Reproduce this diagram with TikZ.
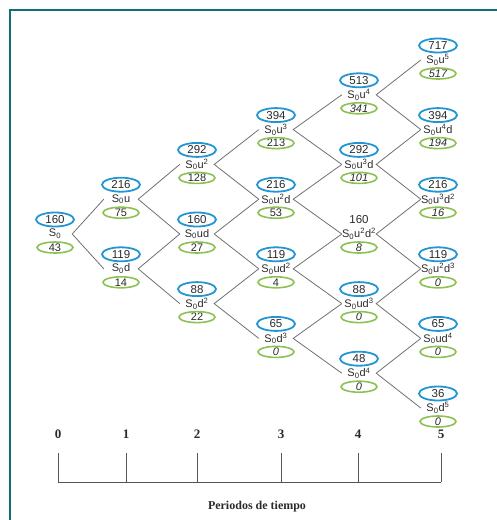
\documentclass[tikz,border=0pt]{standalone}
\usepackage{fontspec}
\setmainfont{Liberation Sans}
\newfontfamily\serifb{Liberation Serif}
\definecolor{framec}{HTML}{0E6F78}
\definecolor{blueel}{HTML}{2196D3}
\definecolor{greenel}{HTML}{8CC152}
\definecolor{treeline}{HTML}{707070}
\definecolor{txt}{HTML}{2A2A2A}
\definecolor{axisc}{HTML}{555555}
\tikzset{
  num/.style={font=\fontsize{11.5}{13}\selectfont, text=txt, inner sep=0pt},
  lab/.style={font=\fontsize{11}{13}\selectfont, text=txt, inner sep=0pt, minimum width=34pt, minimum height=10pt},
  gnum/.style={font=\fontsize{11}{13}\selectfont, text=txt, inner sep=0pt},
  bell/.style={draw=blueel, line width=1.8pt},
  gell/.style={draw=greenel, line width=1.6pt},
  branch/.style={draw=treeline, line width=0.8pt},
  axisline/.style={draw=axisc, line width=1pt},
  axislab/.style={font=\serifb\bfseries\fontsize{13}{15}\selectfont, text=txt, inner sep=0pt},
}
\newcommand\tnode[6]{%
  \node[num] (#1n) at (#2,#3) {#4};
  \draw[bell] (#1n.center) ellipse (19 and 7);
  \node[lab] (#1) at (#2,#3+14.5) {#5};
  \node[gnum] (#1g) at (#2,#3+28) {#6};
  \draw[gell] (#1g.center) ellipse (18 and 5.5);
}
\newcommand\tnodeplain[6]{%
  \node[num] (#1n) at (#2,#3) {#4};
  \node[lab] (#1) at (#2,#3+14.5) {#5};
  \node[gnum] (#1g) at (#2,#3+28) {#6};
  \draw[gell] (#1g.center) ellipse (18 and 5.5);
}
\newcommand\Sz{S\textsubscript{0}}
\begin{document}
\begin{tikzpicture}[x=1pt,y=-1pt]
\useasboundingbox (0,0) rectangle (497,520);
\draw[framec, line width=2pt] (9.5,520) -- (9.5,9.5) -- (497,9.5);
% column 0
\tnode{a0}{55}{219.5}{160}{\Sz}{43}
% column 1
\tnode{b0}{121}{184.7}{216}{\Sz u}{75}
\tnode{b1}{121}{254.3}{119}{\Sz d}{14}
% column 2
\tnode{c0}{197}{149.9}{292}{\Sz u\textsuperscript{2}}{128}
\tnode{c1}{197}{219.5}{160}{\Sz ud}{27}
\tnode{c2}{197}{289.1}{88}{\Sz d\textsuperscript{2}}{22}
% column 3
\tnode{d0}{276}{115.1}{394}{\Sz u\textsuperscript{3}}{213}
\tnode{d1}{276}{184.7}{216}{\Sz u\textsuperscript{2}d}{53}
\tnode{d2}{276}{254.3}{119}{\Sz ud\textsuperscript{2}}{4}
\tnode{d3}{276}{323.9}{65}{\Sz d\textsuperscript{3}}{\itshape 0}
% column 4
\tnode{e0}{359}{80.3}{513}{\Sz u\textsuperscript{4}}{\itshape 341}
\tnode{e1}{359}{149.9}{292}{\Sz u\textsuperscript{3}d}{\itshape 101}
\tnodeplain{e2}{359}{219.5}{160}{\Sz u\textsuperscript{2}d\textsuperscript{2}}{\itshape 8}
\tnode{e3}{359}{289.1}{88}{\Sz ud\textsuperscript{3}}{\itshape 0}
\tnode{e4}{359}{358.7}{48}{\Sz d\textsuperscript{4}}{\itshape 0}
% column 5
\tnode{f0}{438}{45.5}{717}{\Sz u\textsuperscript{5}}{\itshape 517}
\tnode{f1}{438}{115.1}{394}{\Sz u\textsuperscript{4}d}{\itshape 194}
\tnode{f2}{438}{184.7}{216}{\Sz u\textsuperscript{3}d\textsuperscript{2}}{\itshape 16}
\tnode{f3}{438}{254.3}{119}{\Sz u\textsuperscript{2}d\textsuperscript{3}}{\itshape 0}
\tnode{f4}{438}{323.9}{65}{\Sz ud\textsuperscript{4}}{\itshape 0}
\tnode{f5}{438}{393.5}{36}{\Sz d\textsuperscript{5}}{\itshape 0}
% branches
\draw[branch] (b0.west) -- (a0.east) -- (b1.west);
\draw[branch] (c0.west) -- (b0.east) -- (c1.west);
\draw[branch] (c1.west) -- (b1.east) -- (c2.west);
\draw[branch] (d0.west) -- (c0.east) -- (d1.west);
\draw[branch] (d1.west) -- (c1.east) -- (d2.west);
\draw[branch] (d2.west) -- (c2.east) -- (d3.west);
\draw[branch] (e0.west) -- (d0.east) -- (e1.west);
\draw[branch] (e1.west) -- (d1.east) -- (e2.west);
\draw[branch] (e2.west) -- (d2.east) -- (e3.west);
\draw[branch] (e3.west) -- (d3.east) -- (e4.west);
\draw[branch] (f0.west) -- (e0.east) -- (f1.west);
\draw[branch] (f1.west) -- (e1.east) -- (f2.west);
\draw[branch] (f2.west) -- (e2.east) -- (f3.west);
\draw[branch] (f3.west) -- (e3.east) -- (f4.west);
\draw[branch] (f4.west) -- (e4.east) -- (f5.west);
% time axis
\foreach \i/\x in {0/58,1/126,2/197,3/281,4/358,5/441}{
  \node[axislab] (p\i) at (\x,434) {\i};
  \coordinate (tt\i) at (\x,453);
  \coordinate (tb\i) at (\x,482);
  \draw[axisline] (tt\i) -- (tb\i);
}
\draw[axisline] (tb0) -- (tb5);
\node[axislab, font=\serifb\bfseries\fontsize{12}{14}\selectfont] (title) at (257,507) {Periodos de tiempo};
\end{tikzpicture}
\end{document}
